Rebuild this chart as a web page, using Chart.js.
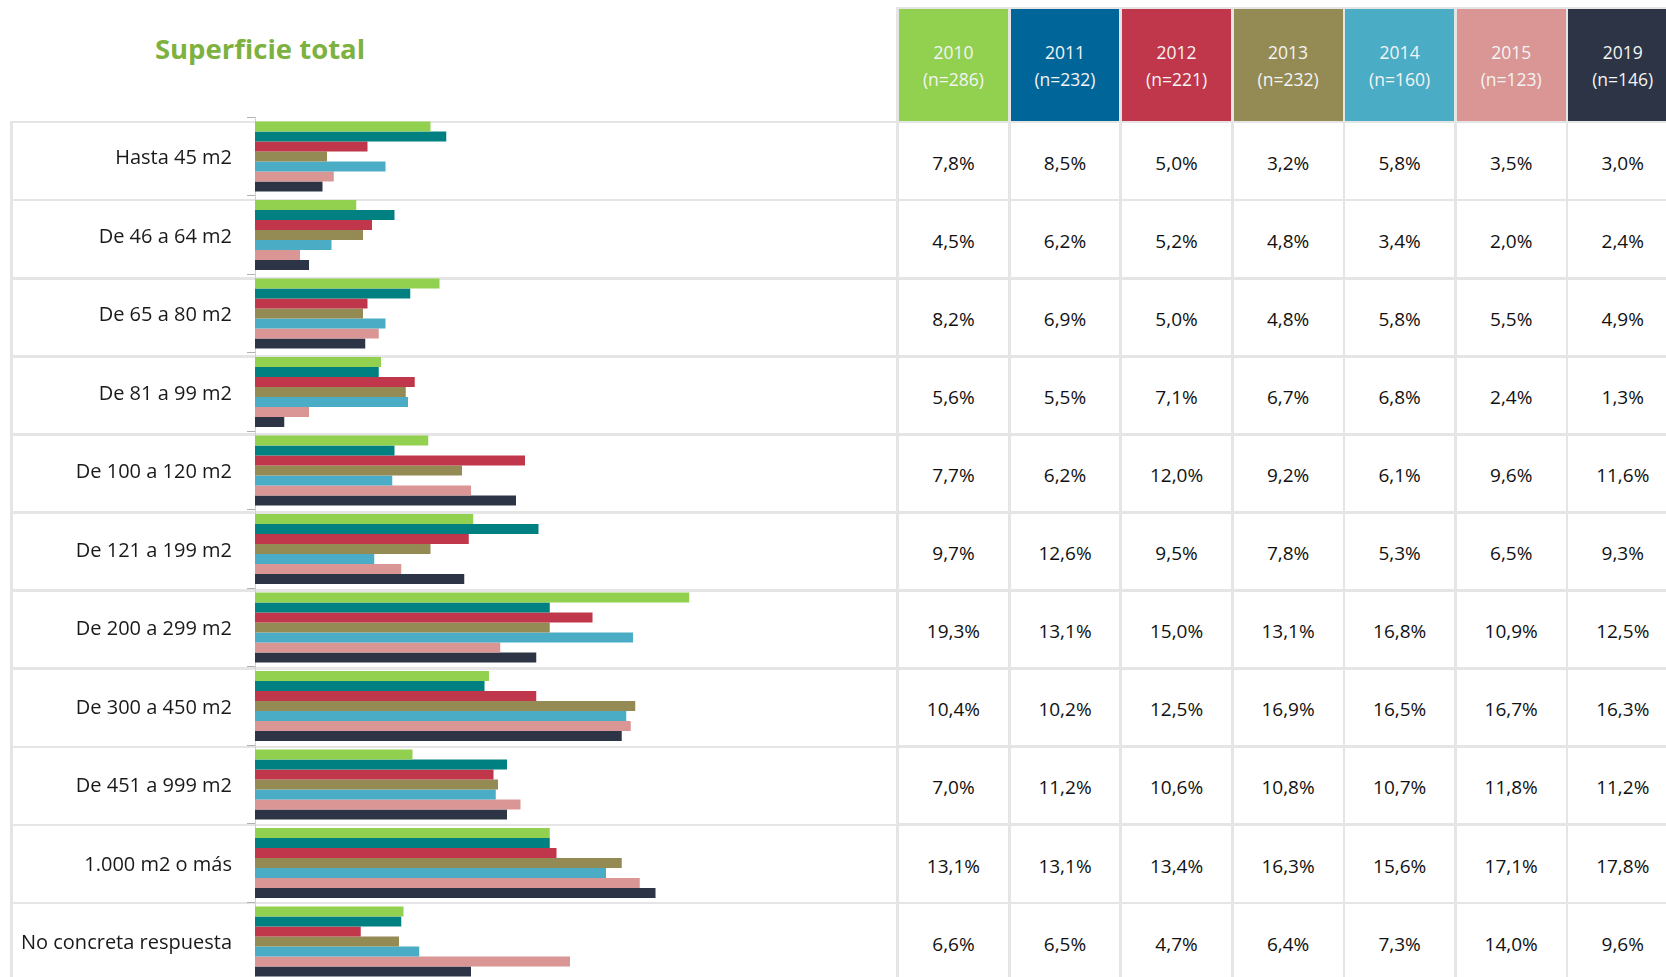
<!DOCTYPE html>
<html lang="es">
<head>
<meta charset="utf-8">
<title>Superficie total</title>
<script src="https://cdn.jsdelivr.net/npm/chart.js@4.4.1/dist/chart.umd.min.js"></script>
<style>
  html, body { margin: 0; padding: 0; background: #ffffff; }
  body { width: 1666px; height: 977px; overflow: hidden; position: relative; font-family: "Open Sans", "Noto Sans", sans-serif; }
  .abs { position: absolute; box-sizing: border-box; }
  #title { left: 60px; width: 400px; top: 34.5px; text-align: center; font-weight: 700; font-size: 27.5px; line-height: 28px; color: #7db240; white-space: nowrap; }
  .grey { background: #e5e5e5; }
  .hcell { color: #f4f4f4; text-align: center; font-size: 17.5px; line-height: 26.8px; padding-top: 29.8px; }
  .dcell { background: #ffffff; color: #111111; text-align: center; font-size: 19px; padding-top: 3.4px; }
  #chartWrap { left: 0; top: 0; width: 890px; height: 1021px; }
</style>
</head>
<body>
<div id="title" class="abs">Superficie total</div>
<div id="grid"></div>
<div id="chartWrap" class="abs"><canvas id="c" width="890" height="1021"></canvas></div>
<script>
// ---- Data ----
const categories = [
  "Hasta 45 m2", "De 46 a 64 m2", "De 65 a 80 m2", "De 81 a 99 m2",
  "De 100 a 120 m2", "De 121 a 199 m2", "De 200 a 299 m2", "De 300 a 450 m2",
  "De 451 a 999 m2", "1.000 m2 o más", "No concreta respuesta"
];
const years = ["2010", "2011", "2012", "2013", "2014", "2015", "2019"];
const sampleSizes = [286, 232, 221, 232, 160, 123, 146];
const s2010 = [7.8, 4.5, 8.2, 5.6, 7.7, 9.7, 19.3, 10.4, 7.0, 13.1, 6.6];
const s2011 = [8.5, 6.2, 6.9, 5.5, 6.2, 12.6, 13.1, 10.2, 11.2, 13.1, 6.5];
const s2012 = [5.0, 5.2, 5.0, 7.1, 12.0, 9.5, 15.0, 12.5, 10.6, 13.4, 4.7];
const s2013 = [3.2, 4.8, 4.8, 6.7, 9.2, 7.8, 13.1, 16.9, 10.8, 16.3, 6.4];
const s2014 = [5.8, 3.4, 5.8, 6.8, 6.1, 5.3, 16.8, 16.5, 10.7, 15.6, 7.3];
const s2015 = [3.5, 2.0, 5.5, 2.4, 9.6, 6.5, 10.9, 16.7, 11.8, 17.1, 14.0];
const s2019 = [3.0, 2.4, 4.9, 1.3, 11.6, 9.3, 12.5, 16.3, 11.2, 17.8, 9.6];
const seriesValues = [s2010, s2011, s2012, s2013, s2014, s2015, s2019];

// ---- Styles ----
const barColors    = ["#92d050", "#008080", "#c0374b", "#948a54", "#4bacc6", "#d99694", "#2c3446"];
const headerColors = ["#92d050", "#006699", "#c0374b", "#948a54", "#4bacc6", "#d99694", "#2c3446"];

// ---- Table (HTML) ----
const grid = document.getElementById("grid");
function box(cls, l, t, w, h, bg, html) {
  const d = document.createElement("div");
  d.className = "abs " + cls;
  d.style.left = l + "px"; d.style.top = t + "px";
  d.style.width = w + "px"; d.style.height = h + "px";
  if (bg) d.style.background = bg;
  if (html !== undefined) d.innerHTML = html;
  grid.appendChild(d);
  return d;
}
const colX0 = 899, colPitch = 111.55, colW = 108.9;
const rowTop0 = 123.3, rowPitch = 78.1, rowH = 75.4;
const headTop = 9.3, headH = 111.4;
// grey backing for the table part
box("grey", 896.3, 7.3, 800, 1000);
// left region: horizontal rules and left border
for (let k = 0; k <= categories.length; k++) {
  box("grey", 10.3, 120.7 + rowPitch * k, 890, 2.7);
}
box("grey", 10.3, 120.7, 2.7, 900);
// header cells
years.forEach((y, i) => {
  box("hcell", colX0 + colPitch * i, headTop, colW, headH, headerColors[i],
      y + "<br>(n=" + sampleSizes[i] + ")");
});
// data cells
categories.forEach((c, k) => {
  seriesValues.forEach((arr, i) => {
    const txt = arr[k].toFixed(1).replace(".", ",") + "%";
    const d = box("dcell", colX0 + colPitch * i, rowTop0 + rowPitch * k, colW, rowH, null, txt);
    d.style.lineHeight = (rowH - 3.4) + "px";
  });
});

// ---- Chart ----
const ctx = document.getElementById("c").getContext("2d");
new Chart(ctx, {
  type: "bar",
  data: {
    labels: categories,
    datasets: years.map((y, i) => ({
      label: y,
      data: seriesValues[i],
      backgroundColor: barColors[i],
      borderWidth: 0,
      categoryPercentage: 0.892,
      barPercentage: 1.0
    }))
  },
  options: {
    indexAxis: "y",
    responsive: false,
    devicePixelRatio: 1,
    animation: false,
    layout: { padding: { left: 0, top: 117.3, right: 5, bottom: 40.2 } },
    plugins: { legend: { display: false }, tooltip: { enabled: false }, title: { display: false } },
    scales: {
      x: { display: false, min: 0, max: 28 },
      y: {
        afterFit: (scale) => { scale.width = 255; },
        grid: { display: true, drawOnChartArea: false, drawTicks: true, tickLength: 8, tickColor: "#b0b0b0", offset: true },
        border: { display: true, color: "#d0d0d0", width: 1 },
        ticks: {
          autoSkip: false,
          padding: 15,
          labelOffset: 2,
          color: "#1a1a1a",
          font: { family: "'Open Sans', 'Noto Sans', sans-serif", size: 20 }
        }
      }
    }
  }
});
</script>
</body>
</html>
